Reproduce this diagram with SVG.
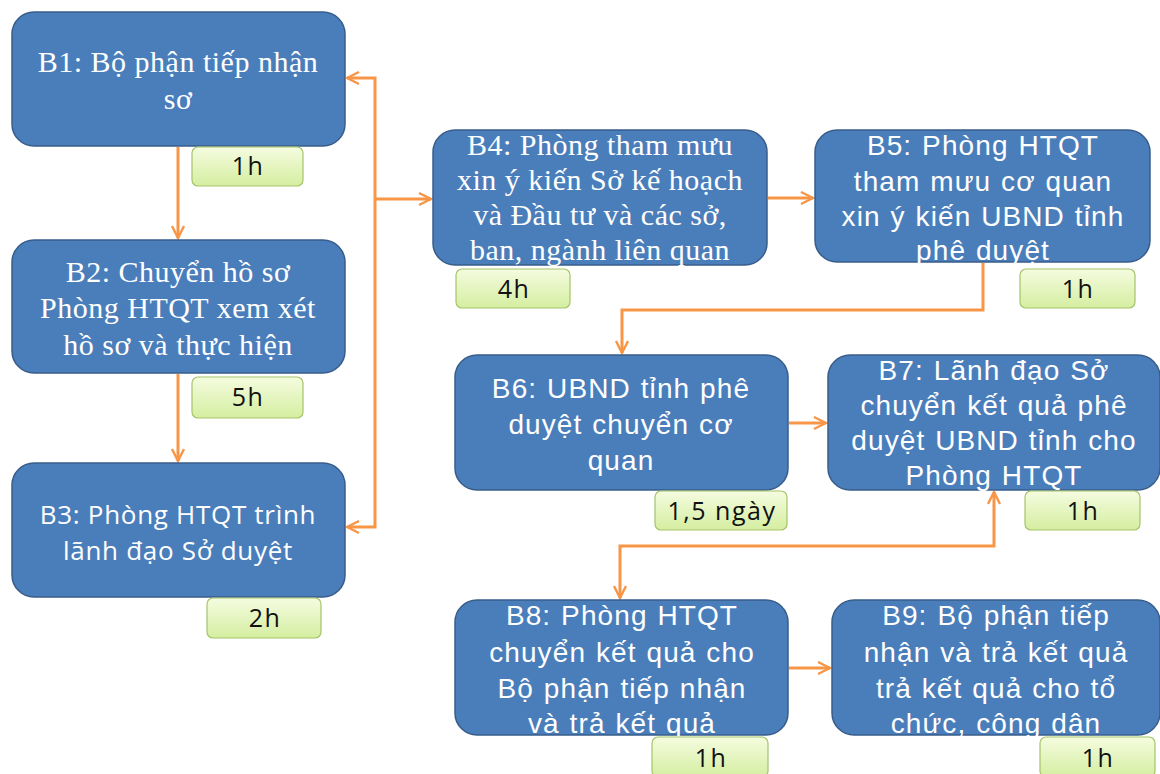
<svg xmlns="http://www.w3.org/2000/svg" width="1160" height="774" viewBox="0 0 1160 774">
<defs>
<linearGradient id="lg" x1="0" y1="0" x2="0" y2="1">
<stop offset="0" stop-color="#f5fce0"/>
<stop offset="1" stop-color="#d4eea0"/>
</linearGradient>
<marker id="ah" viewBox="0 0 10 10" refX="9" refY="5" markerWidth="5" markerHeight="5" orient="auto-start-reverse" markerUnits="strokeWidth">
<path d="M1,1 L9,5 L1,9" fill="none" stroke="#f79646" stroke-width="1.6"/>
</marker>
</defs>
<style>
.n{fill:#4a7ebb;stroke:#385d8a;stroke-width:1.5}
.l{fill:url(#lg);stroke:#a5c46a;stroke-width:1.2}
.c{fill:none;stroke:#f79646;stroke-width:3}
.tm{font-family:"Liberation Serif",serif;font-size:30px;letter-spacing:0.5px;fill:#fff;text-anchor:middle}
.ta{font-family:"Liberation Sans",sans-serif;font-size:28px;letter-spacing:1.1px;word-spacing:1px;fill:#fff;text-anchor:middle}
.tc{font-family:"Open Sans","Noto Sans",sans-serif;font-size:26px;letter-spacing:0.7px;fill:#fff;text-anchor:middle}
.tl{font-family:"Open Sans","Noto Sans",sans-serif;font-size:25px;letter-spacing:1.5px;fill:#111;text-anchor:middle}
</style>
<rect width="1160" height="774" fill="#fff"/>
<g id="connectors">
<path class="c" d="M178,147 V238" marker-end="url(#ah)"/>
<path class="c" d="M178,374 V461" marker-end="url(#ah)"/>
<path class="c" d="M347,78 H375 V527 H347" marker-start="url(#ah)" marker-end="url(#ah)"/>
<path class="c" d="M375,199 H431" marker-end="url(#ah)"/>
<path class="c" d="M768,198 H813" marker-end="url(#ah)"/>
<path class="c" d="M983,263 V310 H622 V353" marker-end="url(#ah)"/>
<path class="c" d="M789,423 H826" marker-end="url(#ah)"/>
<path class="c" d="M620,598 V546 H994 V492" marker-start="url(#ah)" marker-end="url(#ah)"/>
<path class="c" d="M789,668 H830" marker-end="url(#ah)"/>
</g>
<g id="B1">
<rect class="n" x="12" y="12" width="333" height="134" rx="22"/>
<text class="tm" x="178" y="72">B1: Bộ phận tiếp nhận</text>
<text class="tm" x="178" y="109">sơ</text>
</g>
<g id="L1"><rect class="l" x="192" y="147" width="111" height="39" rx="6"/><text class="tl" x="248" y="175">1h</text></g>
<g id="B2">
<rect class="n" x="12" y="240" width="333" height="133" rx="22"/>
<text class="tm" x="178" y="282">B2: Chuyển hồ sơ</text>
<text class="tm" x="178" y="318">Phòng HTQT xem xét</text>
<text class="tm" x="178" y="355">hồ sơ và thực hiện</text>
</g>
<g id="L2"><rect class="l" x="192" y="377" width="111" height="41" rx="6"/><text class="tl" x="248" y="406">5h</text></g>
<g id="B3">
<rect class="n" x="12" y="463" width="333" height="134" rx="22"/>
<text class="tc" x="178" y="524">B3: Phòng HTQT trình</text>
<text class="tc" x="178" y="560">lãnh đạo Sở duyệt</text>
</g>
<g id="L3"><rect class="l" x="207" y="598" width="114" height="40" rx="6"/><text class="tl" x="265" y="627">2h</text></g>
<g id="B4">
<rect class="n" x="433" y="130" width="334" height="135" rx="22"/>
<text class="tm" x="600" y="155">B4: Phòng tham mưu</text>
<text class="tm" x="600" y="190">xin ý kiến Sở kế hoạch</text>
<text class="tm" x="600" y="225">và Đầu tư và các sở,</text>
<text class="tm" x="600" y="260">ban, ngành liên quan</text>
</g>
<g id="L4"><rect class="l" x="456" y="269" width="114" height="39" rx="6"/><text class="tl" x="514" y="298">4h</text></g>
<g id="B5">
<rect class="n" x="815" y="130" width="335" height="132" rx="22"/>
<text class="ta" x="983" y="155">B5: Phòng HTQT</text>
<text class="ta" x="983" y="191">tham mưu cơ quan</text>
<text class="ta" x="983" y="226">xin ý kiến UBND tỉnh</text>
<text class="ta" x="983" y="260">phê duyệt</text>
</g>
<g id="L5"><rect class="l" x="1020" y="269" width="115" height="39" rx="6"/><text class="tl" x="1078" y="298">1h</text></g>
<g id="B6">
<rect class="n" x="455" y="355" width="333" height="135" rx="22"/>
<text class="ta" x="621" y="398">B6: UBND  tỉnh phê</text>
<text class="ta" x="621" y="434">duyệt chuyển cơ</text>
<text class="ta" x="621" y="470">quan</text>
</g>
<g id="L6"><rect class="l" x="655" y="491" width="132" height="39" rx="6"/><text class="tl" x="722" y="520">1,5 ngày</text></g>
<g id="B7">
<rect class="n" x="828" y="355" width="332" height="135" rx="22"/>
<text class="ta" x="994" y="380">B7: Lãnh đạo Sở</text>
<text class="ta" x="994" y="415">chuyển kết quả phê</text>
<text class="ta" x="994" y="450">duyệt UBND tỉnh cho</text>
<text class="ta" x="994" y="485">Phòng HTQT</text>
</g>
<g id="L7"><rect class="l" x="1025" y="491" width="115" height="39" rx="6"/><text class="tl" x="1083" y="520">1h</text></g>
<g id="B8">
<rect class="n" x="455" y="600" width="333" height="135" rx="22"/>
<text class="ta" x="622" y="625">B8: Phòng HTQT</text>
<text class="ta" x="622" y="662">chuyển kết quả cho</text>
<text class="ta" x="622" y="698">Bộ phận tiếp nhận</text>
<text class="ta" x="622" y="733">và trả kết quả</text>
</g>
<g id="L8"><rect class="l" x="652" y="737" width="116" height="40" rx="6"/><text class="tl" x="711" y="767">1h</text></g>
<g id="B9">
<rect class="n" x="832" y="600" width="328" height="135" rx="22"/>
<text class="ta" x="996" y="625">B9: Bộ phận tiếp</text>
<text class="ta" x="996" y="662">nhận và trả kết quả</text>
<text class="ta" x="996" y="698">trả kết quả cho tổ</text>
<text class="ta" x="996" y="733">chức, công dân</text>
</g>
<g id="L9"><rect class="l" x="1040" y="737" width="115" height="40" rx="6"/><text class="tl" x="1098" y="767">1h</text></g>
</svg>
